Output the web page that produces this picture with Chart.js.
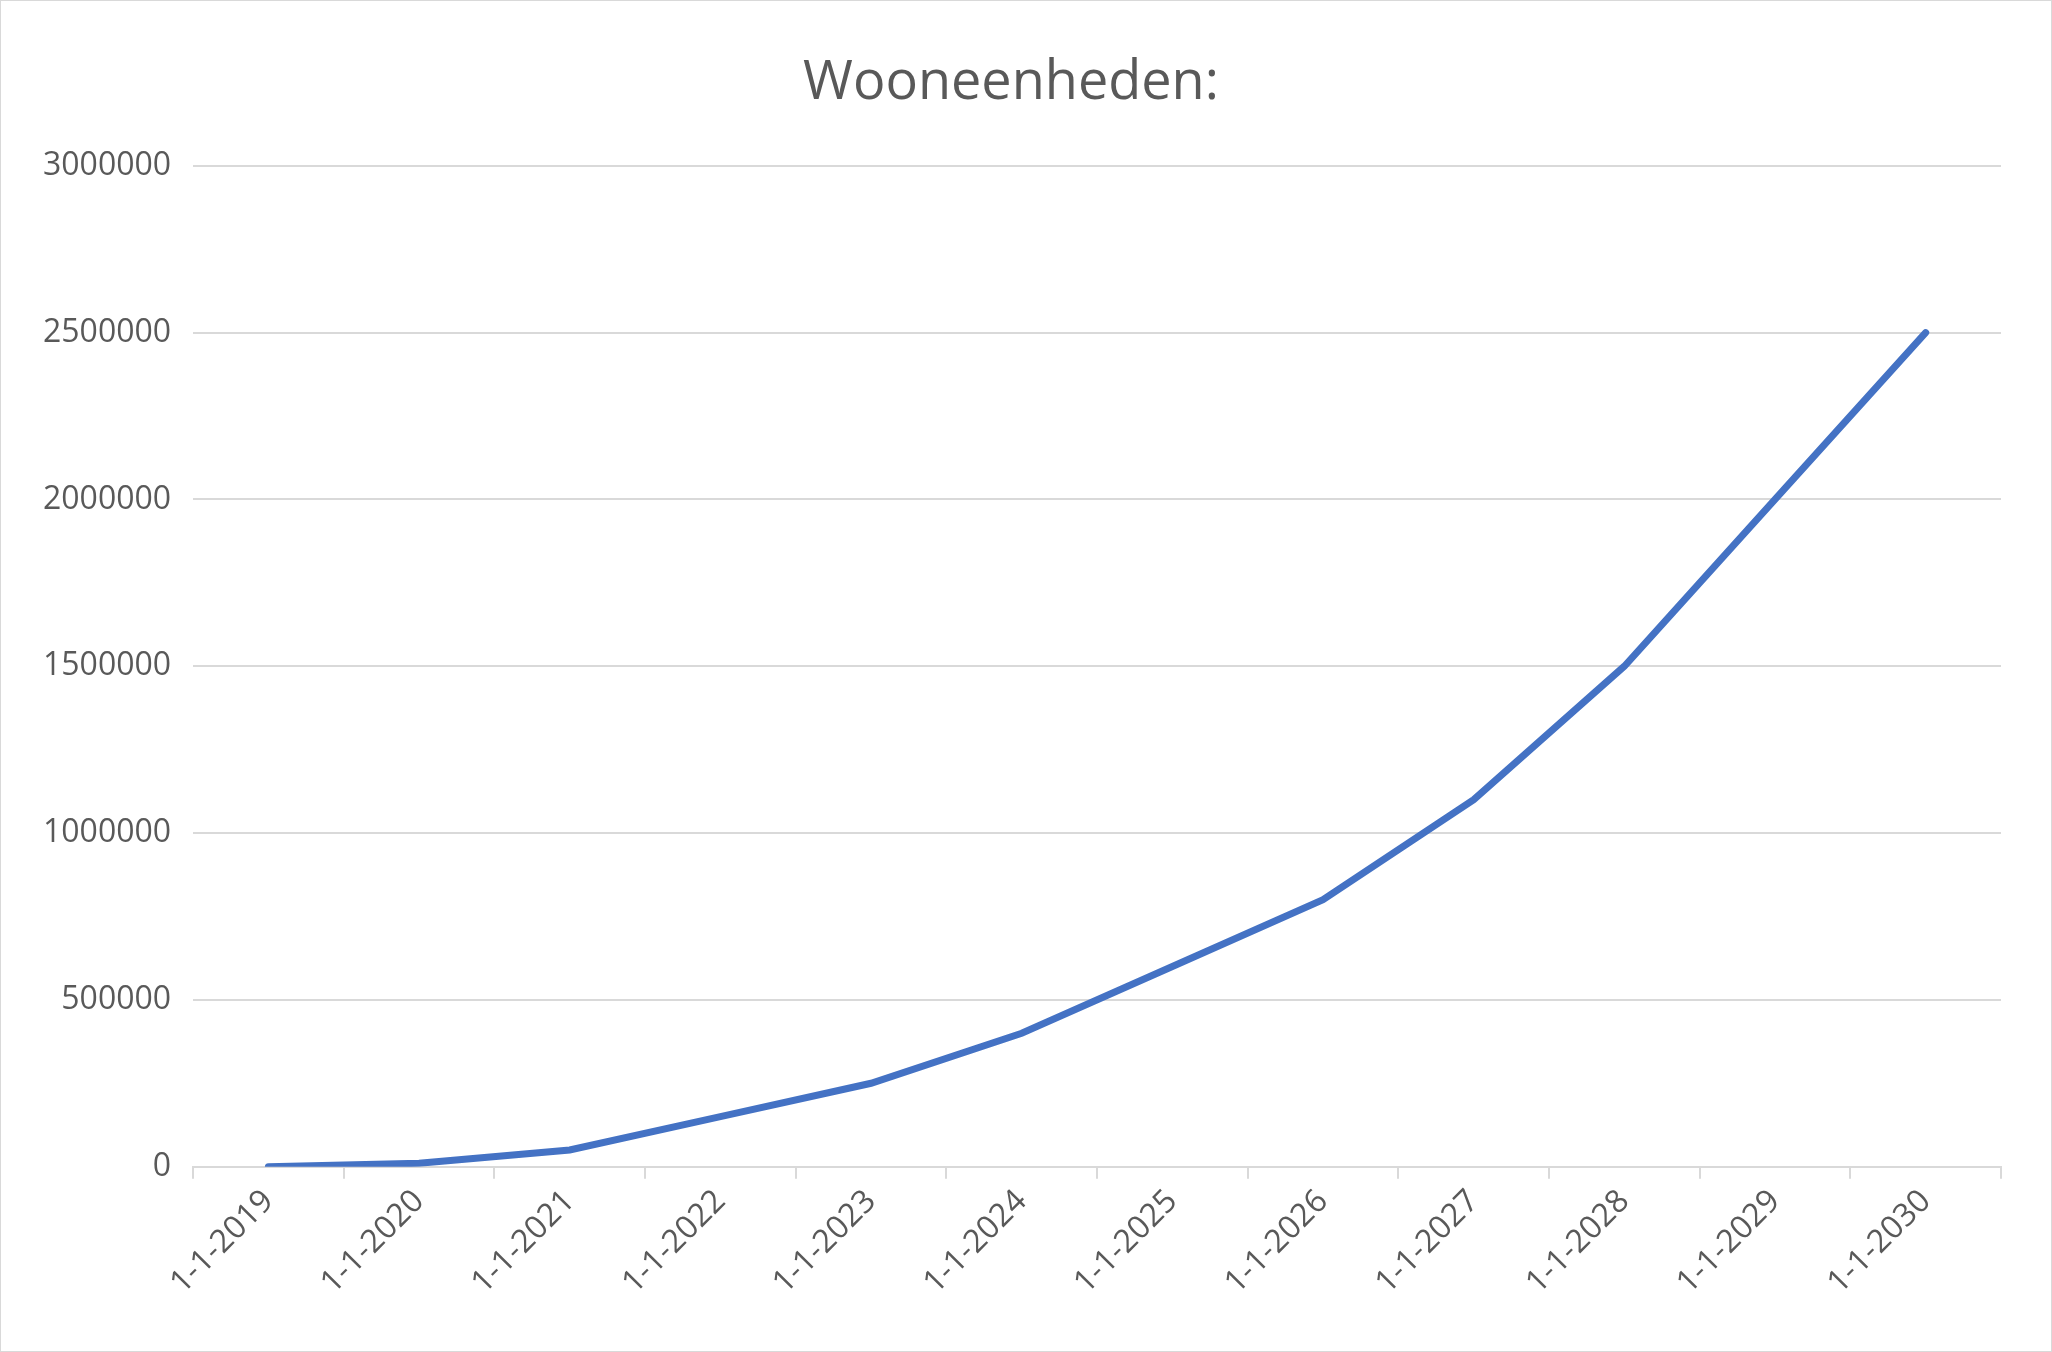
<!DOCTYPE html>
<html><head><meta charset="utf-8">
<script src="https://cdn.jsdelivr.net/npm/chart.js@4"></script>
<style>html,body{margin:0;padding:0;background:#fff;overflow:hidden}
#wrap{position:absolute;left:0;top:0;width:2050px;height:1350px;border:1px solid #d9d9d9}
</style></head><body>
<div id="wrap"><canvas id="c" width="2050" height="1350"></canvas></div>
<script>
const categories=["1-1-2019","1-1-2020","1-1-2021","1-1-2022","1-1-2023","1-1-2024","1-1-2025","1-1-2026","1-1-2027","1-1-2028","1-1-2029","1-1-2030"];
const values=[0,10000,50000,150000,250000,400000,600000,800000,1100000,1500000,2000000,2500000];
const chartTitle="Wooneenheden:";
new Chart(document.getElementById('c'),{
 type:'line',
 data:{labels:categories,datasets:[{data:values,borderColor:'#4472C4',borderWidth:7,pointRadius:0,tension:0,borderCapStyle:'round'}]},
 options:{responsive:false,animation:false,
  layout:{padding:{left:20,right:50,top:30,bottom:45}},
  plugins:{legend:{display:false},tooltip:{enabled:false},
   title:{display:true,text:chartTitle,color:'#595959',font:{family:'Open Sans',size:54,weight:'normal'},padding:{top:20,bottom:50}}},
  scales:{
   x:{offset:true,grid:{offset:true,drawOnChartArea:false,color:'#d9d9d9',lineWidth:2,tickLength:12},border:{color:'#d9d9d9',width:2},
      ticks:{color:'#595959',font:{family:'Open Sans',size:32},maxRotation:45,minRotation:45,padding:4}},
   y:{min:0,max:3000000,ticks:{stepSize:500000,color:'#595959',font:{family:'Open Sans',size:32},padding:22,callback:v=>String(v)},
      grid:{color:'#d9d9d9',lineWidth:2,drawTicks:false},border:{display:false}}
  }}
});
</script></body></html>
